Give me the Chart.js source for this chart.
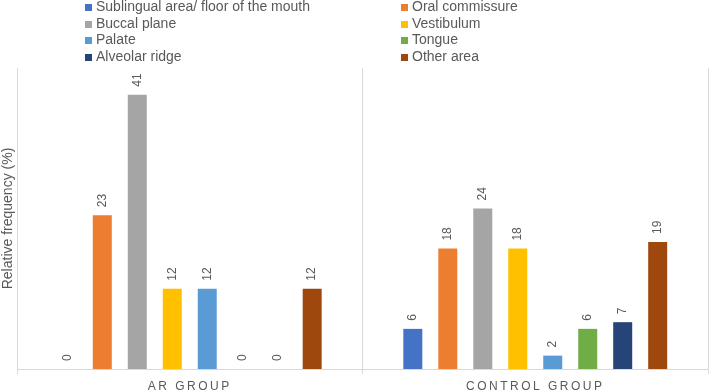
<!DOCTYPE html>
<html>
<head>
<meta charset="utf-8">
<script src="https://cdn.jsdelivr.net/npm/chart.js@4"></script>
<style>
html, body { margin: 0; padding: 0; background: #fff; }
#wrap { position: relative; width: 709px; height: 391px; }
#legend { position: absolute; left: 0; top: 0; width: 709px; height: 64px; font: 14px 'Liberation Sans', sans-serif; color: #595959; }
.item { position: absolute; white-space: nowrap; line-height: 16px; }
.item span { display: inline-block; width: 7px; height: 7px; margin-right: 4px; }
</style>
</head>
<body>
<div id="wrap">
  <canvas id="myChart" width="709" height="391"></canvas>
  <div id="legend"></div>
</div>
<script>
'use strict';
const groups = ['AR GROUP', 'CONTROL GROUP'];
const areas = [
  'Sublingual area/ floor of the mouth',
  'Oral commissure',
  'Buccal plane',
  'Vestibulum',
  'Palate',
  'Tongue',
  'Alveolar ridge',
  'Other area',
];
const arGroup = [0, 23, 41, 12, 12, 0, 0, 12];
const controlGroup = [6, 18, 24, 18, 2, 6, 7, 19];
const colors = ['#4472C4', '#ED7D31', '#A5A5A5', '#FFC000', '#5B9BD5', '#70AD47', '#264478', '#9E480E'];

// legend in two columns, like the original
const legendBox = document.getElementById('legend');
for (let i = 0; i < areas.length; i++) {
  const el = document.createElement('div');
  el.className = 'item';
  el.style.left = (i % 2 === 0 ? 85 : 401) + 'px';
  el.style.top = (-2 + Math.floor(i / 2) * 16.5) + 'px';
  el.innerHTML = `<span style="background:${colors[i]}"></span>${areas[i]}`;
  legendBox.appendChild(el);
}

const barLabels = {
  id: 'barLabels',
  afterDatasetsDraw(chart) {
    const ctx = chart.ctx;
    ctx.save();
    ctx.fillStyle = '#595959';
    ctx.font = '12px "Liberation Sans"';
    ctx.textAlign = 'left';
    ctx.textBaseline = 'middle';
    chart.data.datasets.forEach((ds, i) => {
      chart.getDatasetMeta(i).data.forEach((bar, j) => {
        ctx.save();
        ctx.translate(bar.x, bar.y - 8);
        ctx.rotate(-Math.PI / 2);
        ctx.fillText(ds.data[j], 0, 0);
        ctx.restore();
      });
    });
    ctx.restore();
  }
};

// spaced out category labels
const spacedTicks = {
  id: 'spacedTicks',
  afterUpdate(chart) {
    const sx = chart.scales.x;
    const draw = Object.getPrototypeOf(sx).drawLabels;
    sx.drawLabels = function (area) {
      chart.ctx.save();
      chart.ctx.letterSpacing = '2.5px';
      draw.call(this, area);
      chart.ctx.restore();
    };
  }
};

const datasets = [];
for (let i = 0; i < areas.length; i++) {
  datasets.push({
    label: areas[i],
    data: [arGroup[i], controlGroup[i]],
    backgroundColor: colors[i],
    categoryPercentage: 0.81,
    barPercentage: 0.543,
  });
}

const ctx = document.getElementById('myChart').getContext('2d');
new Chart(ctx, {
  type: 'bar',
  data: { labels: groups, datasets: datasets },
  plugins: [barLabels, spacedTicks],
  options: {
    responsive: false,
    animation: false,
    layout: { padding: { top: 68, right: 1, left: 0, bottom: 0 } },
    plugins: { legend: { display: false }, tooltip: { enabled: false } },
    scales: {
      x: {
        grid: { color: '#D9D9D9', offset: true, tickLength: 5 },
        border: { color: '#D9D9D9' },
        ticks: { color: '#595959', font: { size: 12, family: 'Liberation Sans' }, padding: 5 },
        afterFit(s) { s.height = 22; }
      },
      y: {
        min: 0,
        max: 45,
        ticks: { display: false },
        grid: { display: false },
        border: { display: false },
        title: { display: true, text: 'Relative frequency (%)', color: '#595959', font: { size: 14, family: 'Liberation Sans' }, padding: 0 },
        afterFit(s) { s.width = 17; }
      }
    }
  }
});
</script>
</body>
</html>
